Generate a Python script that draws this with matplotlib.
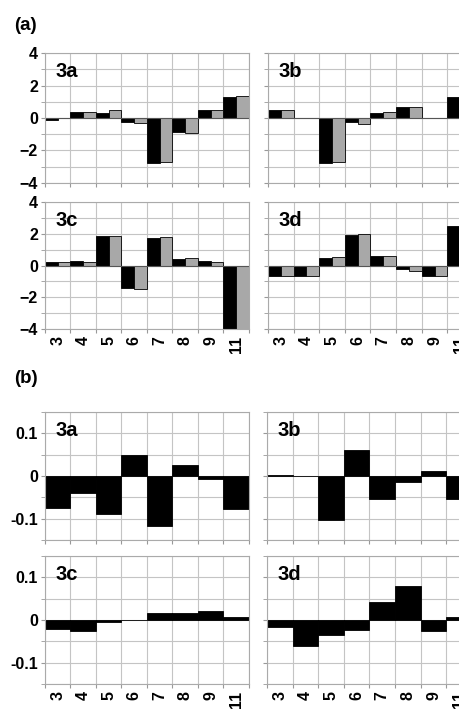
import numpy as np
import matplotlib
matplotlib.use("Agg")
import matplotlib.pyplot as plt

plt.rcParams['font.family'] = ['Liberation Sans', 'DejaVu Sans']
plt.rcParams['font.weight'] = 'bold'

cats = ['3', '4', '5', '6', '7', '8', '9', '11']

# part (a): two series per panel (black, gray)
a_black = {
    '3a': [-0.1, 0.35, 0.3, -0.27, -2.8, -0.87, 0.48, 1.3],
    '3b': [0.5, 0.0, -2.8, -0.23, 0.33, 0.65, -0.03, 1.3],
    '3c': [0.25, 0.3, 1.83, -1.41, 1.75, 0.44, 0.3, -4.0],
    '3d': [-0.69, -0.69, 0.46, 1.94, 0.59, -0.19, -0.69, 2.47],
}
a_gray = {
    '3a': [-0.03, 0.4, 0.48, -0.33, -2.7, -0.95, 0.48, 1.38],
    '3b': [0.52, 0.0, -2.7, -0.35, 0.37, 0.7, 0.0, 1.35],
    '3c': [0.25, 0.25, 1.85, -1.5, 1.79, 0.48, 0.23, -4.0],
    '3d': [-0.69, -0.63, 0.53, 2.0, 0.57, -0.34, -0.69, 2.5],
}
# part (b): one series per panel
b_vals = {
    '3a': [-0.075, -0.04, -0.088, 0.05, -0.118, 0.026, -0.008, -0.077],
    '3b': [0.002, 0.0, -0.103, 0.062, -0.053, -0.014, 0.012, -0.053],
    '3c': [-0.021, -0.025, -0.004, 0.001, 0.017, 0.017, 0.021, 0.008],
    '3d': [-0.017, -0.061, -0.034, -0.024, 0.042, 0.08, -0.025, 0.007],
}

W, H = 460, 709
fig = plt.figure(figsize=(W / 100, H / 100), dpi=100)


def make_ax(x0, x1, y0, y1):
    return fig.add_axes([x0 / W, 1 - y1 / H, (x1 - x0) / W, (y1 - y0) / H])


def style(ax, name, xlabels, ylabels):
    n = len(cats)
    ax.set_xlim(-0.5, n - 0.5)
    ax.set_xticks(np.arange(n + 1) - 0.5)
    ax.set_xticklabels([])
    ax.set_xticks(np.arange(n), minor=True)
    if xlabels:
        ax.set_xticklabels(cats, minor=True, rotation=90, fontsize=11.5,
                           fontweight='bold')
    ax.tick_params(axis='x', which='minor', length=0, pad=5)
    ax.tick_params(axis='x', which='major', length=3, color='#999999')
    ax.tick_params(axis='y', which='both', length=3, color='#999999',
                   labelsize=11.5, pad=2)
    if not ylabels:
        ax.set_yticklabels([])
    ax.grid(True, which='major', color='#c4c4c4', lw=0.8)
    ax.grid(True, which='minor', axis='y', color='#c4c4c4', lw=0.8)
    for s in ax.spines.values():
        s.set_color('#aaaaaa')
        s.set_linewidth(0.8)
    ax.set_axisbelow(True)
    ax.text(0.05, 0.93, name, transform=ax.transAxes, fontsize=14.5,
            fontweight='bold', va='top', ha='left')


xl = (45, 249)
xr = (268, 473)
x = np.arange(len(cats))

# ---- part (a)
rows_a = [(53, 183), (202, 329)]
names = [['3a', '3b'], ['3c', '3d']]
for r, (y0, y1) in enumerate(rows_a):
    for c, (x0, x1) in enumerate([xl, xr]):
        ax = make_ax(x0, x1, y0, y1)
        nm = names[r][c]
        ax.bar(x - 0.25, a_black[nm], width=0.5, color='black',
               edgecolor='black', lw=0.6)
        ax.bar(x + 0.25, a_gray[nm], width=0.5, color='#a8a8a8',
               edgecolor='black', lw=0.6)
        ax.axhline(0, color='#555555', lw=0.8, zorder=1.5)
        ax.set_ylim(-4, 4)
        ax.set_yticks([-4, -2, 0, 2, 4])
        ax.set_yticks([-3, -1, 1, 3], minor=True)
        style(ax, nm, r == 1, c == 0)

# ---- part (b)
rows_b = [(412, 540), (556, 684)]
for r, (y0, y1) in enumerate(rows_b):
    for c, (x0, x1) in enumerate([(45, 249), (267, 472)]):
        ax = make_ax(x0, x1, y0, y1)
        nm = names[r][c]
        ax.bar(x, b_vals[nm], width=1.0, color='black', edgecolor='black',
               lw=0.6)
        ax.set_ylim(-0.15, 0.15)
        ax.set_yticks([-0.1, 0, 0.1])
        ax.set_yticklabels(['-0.1', '0', '0.1'] if c == 0 else [])
        ax.set_yticks([-0.15, -0.05, 0.05, 0.15], minor=True)
        style(ax, nm, r == 1, c == 0)

fig.text(14 / W, 1 - 25 / H, '(a)', fontsize=13.5, fontweight='bold',
         va='center', ha='left')
fig.text(14 / W, 1 - 379 / H, '(b)', fontsize=13.5, fontweight='bold',
         va='center', ha='left')

fig.savefig('out.png', dpi=100)
